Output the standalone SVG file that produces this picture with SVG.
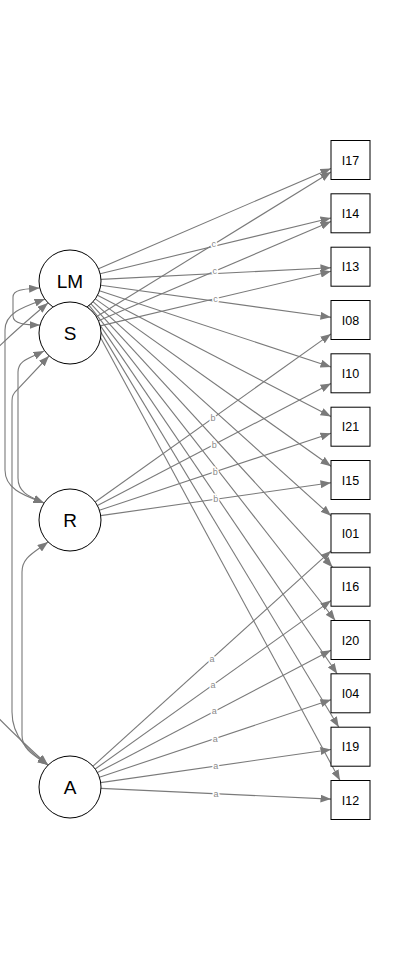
<svg xmlns="http://www.w3.org/2000/svg" width="420" height="960" viewBox="0 0 420 960">
<style>
.e{fill:none;stroke:#7a7a7a;stroke-width:1.1;marker-end:url(#ah)}
.cv{fill:none;stroke:#7a7a7a;stroke-width:1.1;marker-end:url(#ah);marker-start:url(#ah)}
.lb{font-family:"Liberation Sans",Arial,sans-serif;font-size:9px;fill:#8a8a8a;text-anchor:middle;stroke:#fff;stroke-width:3;paint-order:stroke}
.lat circle{fill:#fff;stroke:#000;stroke-width:1}
.lat text{font-family:"Liberation Sans",Arial,sans-serif;font-size:19px;text-anchor:middle;fill:#000}
.man rect{fill:#fff;stroke:#000;stroke-width:1}
.man text{font-family:"Liberation Sans",Arial,sans-serif;font-size:12.5px;text-anchor:middle;fill:#000}
</style>
<defs>
<marker id="ah" markerUnits="userSpaceOnUse" markerWidth="11" markerHeight="8" refX="10.5" refY="4" orient="auto-start-reverse">
<path d="M0,0 L10.5,4 L0,8 z" fill="#7a7a7a"/>
</marker>
</defs>
<rect width="420" height="960" fill="#fff"/>
<g id="connectors">
<path class="cv" d="M39.5,288 C26,289 13,289 13,297 L13,316 C13,324 26,325 40,325"/>
<path class="cv" d="M45,299 C26,306 5,312 5,330 L5,470 C5,490 26,496 44,503"/>
<path class="cv" d="M44,351 C30,358 18,360 18,372 L18,478 C18,492 28,496 44,503"/>
<path class="cv" d="M49,356 L15,392 C12,396 12,398 12,404 L12,712 C12,738 30,752 48,765"/>
<path class="cv" d="M48,542 C32,554 22,558 22,572 L22,735 C22,750 35,756 48,765"/>
<path class="cv" d="M48,303 C-150,468 -165,575 48,765"/>
<line class="e" x1="98.5" y1="268.7" x2="331" y2="168.4"/>
<line class="e" x1="100.1" y1="273.7" x2="331" y2="218"/>
<line class="e" x1="101" y1="279.4" x2="331" y2="267.7"/>
<line class="e" x1="100.7" y1="285.3" x2="331" y2="317.3"/>
<line class="e" x1="99.4" y1="290.7" x2="331" y2="366.9"/>
<line class="e" x1="97.5" y1="295.3" x2="331" y2="416.6"/>
<line class="e" x1="95.3" y1="298.9" x2="331" y2="466.2"/>
<line class="e" x1="93" y1="301.7" x2="331" y2="515.8"/>
<line class="e" x1="91" y1="303.8" x2="332.6" y2="567.2"/>
<line class="e" x1="89.1" y1="305.4" x2="335.3" y2="620.5"/>
<line class="e" x1="87.4" y1="306.6" x2="337.2" y2="673.8"/>
<line class="e" x1="86" y1="307.6" x2="338.8" y2="727.2"/>
<line class="e" x1="84.7" y1="308.3" x2="340" y2="780.5"/>
<line class="e" x1="96.4" y1="316.7" x2="331" y2="172"/>
<line class="e" x1="98.5" y1="320.8" x2="331" y2="221.6"/>
<line class="e" x1="100.2" y1="325.9" x2="331" y2="271.3"/>
<line class="e" x1="95.2" y1="502" x2="331" y2="333.9"/>
<line class="e" x1="97.5" y1="505.6" x2="331" y2="383.5"/>
<line class="e" x1="99.4" y1="510.2" x2="331" y2="433.2"/>
<line class="e" x1="100.7" y1="515.6" x2="331" y2="482.8"/>
<line class="e" x1="93" y1="766.2" x2="331" y2="550.9"/>
<line class="e" x1="95.2" y1="769" x2="331" y2="600.6"/>
<line class="e" x1="97.5" y1="772.6" x2="331" y2="650.2"/>
<line class="e" x1="99.4" y1="777.2" x2="331" y2="699.8"/>
<line class="e" x1="100.7" y1="782.6" x2="331" y2="749.5"/>
<line class="e" x1="101" y1="788.4" x2="331" y2="799.1"/>
<text class="lb" x="213.7" y="247.4">c</text>
<text class="lb" x="214.8" y="274.2">c</text>
<text class="lb" x="215.6" y="301.6">c</text>
<text class="lb" x="213.1" y="421">b</text>
<text class="lb" x="214.2" y="447.6">b</text>
<text class="lb" x="215.2" y="474.7">b</text>
<text class="lb" x="215.8" y="502.2">b</text>
<text class="lb" x="212" y="661.6">a</text>
<text class="lb" x="213.1" y="687.8">a</text>
<text class="lb" x="214.2" y="714.4">a</text>
<text class="lb" x="215.2" y="741.5">a</text>
<text class="lb" x="215.8" y="769">a</text>
<text class="lb" x="216" y="796.7">a</text>
</g>
<g id="LM" class="lat"><circle cx="70" cy="281" r="31"/><text x="70" y="288">LM</text></g>
<g id="S" class="lat"><circle cx="70" cy="333" r="31"/><text x="70" y="340">S</text></g>
<g id="R" class="lat"><circle cx="70" cy="520" r="31"/><text x="70" y="527">R</text></g>
<g id="A" class="lat"><circle cx="70" cy="787" r="31"/><text x="70" y="794">A</text></g>
<g id="I17" class="man"><rect x="331" y="140.5" width="39" height="39"/><text x="350.5" y="164.5">I17</text></g>
<g id="I14" class="man"><rect x="331" y="193.8" width="39" height="39"/><text x="350.5" y="217.8">I14</text></g>
<g id="I13" class="man"><rect x="331" y="247.2" width="39" height="39"/><text x="350.5" y="271.2">I13</text></g>
<g id="I08" class="man"><rect x="331" y="300.5" width="39" height="39"/><text x="350.5" y="324.5">I08</text></g>
<g id="I10" class="man"><rect x="331" y="353.8" width="39" height="39"/><text x="350.5" y="377.8">I10</text></g>
<g id="I21" class="man"><rect x="331" y="407.2" width="39" height="39"/><text x="350.5" y="431.2">I21</text></g>
<g id="I15" class="man"><rect x="331" y="460.5" width="39" height="39"/><text x="350.5" y="484.5">I15</text></g>
<g id="I01" class="man"><rect x="331" y="513.8" width="39" height="39"/><text x="350.5" y="537.8">I01</text></g>
<g id="I16" class="man"><rect x="331" y="567.2" width="39" height="39"/><text x="350.5" y="591.2">I16</text></g>
<g id="I20" class="man"><rect x="331" y="620.5" width="39" height="39"/><text x="350.5" y="644.5">I20</text></g>
<g id="I04" class="man"><rect x="331" y="673.8" width="39" height="39"/><text x="350.5" y="697.8">I04</text></g>
<g id="I19" class="man"><rect x="331" y="727.2" width="39" height="39"/><text x="350.5" y="751.2">I19</text></g>
<g id="I12" class="man"><rect x="331" y="780.5" width="39" height="39"/><text x="350.5" y="804.5">I12</text></g>
</svg>
